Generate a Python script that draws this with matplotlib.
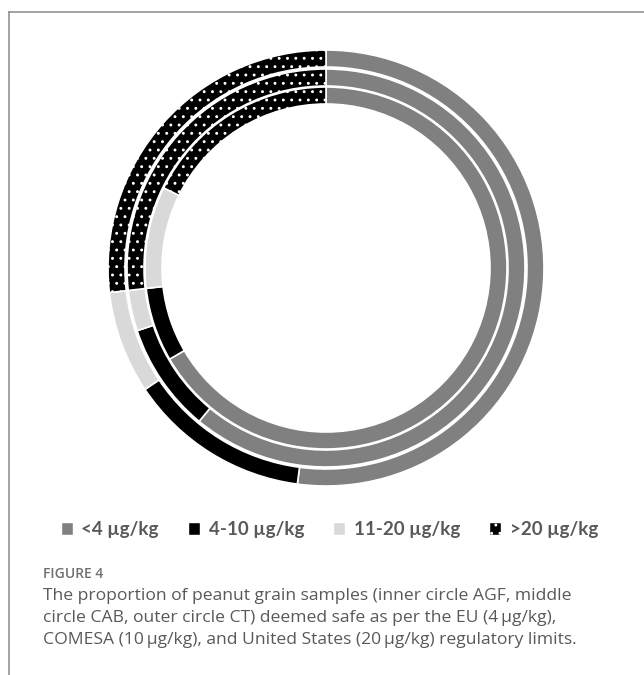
import matplotlib.pyplot as plt
from matplotlib.lines import Line2D

# proportions (%) of samples per aflatoxin class
categories = ["<4 µg/kg", "4-10 µg/kg", "11-20 µg/kg", ">20 µg/kg"]
agf = [66.6, 6.6, 9.1, 17.7]   # inner circle
cab = [61.0, 8.9, 3.3, 26.8]   # middle circle
ct = [52.1, 13.5, 7.6, 26.8]   # outer circle

colors = ["#808080", "#000000", "#d9d9d9", "#000000"]
hatches = [None, None, None, ".."]

caption_head = "FIGURE 4"
caption_lines = [
    "The proportion of peanut grain samples (inner circle AGF, middle",
    "circle CAB, outer circle CT) deemed safe as per the EU (4\u2009µg/kg),",
    "COMESA (10\u2009µg/kg), and United States (20\u2009µg/kg) regulatory limits.",
]

plt.rcParams["hatch.linewidth"] = 0.9

W, H = 644, 675
fig = plt.figure(figsize=(W / 100, H / 100), dpi=100)

cx, cy, R = 326, 268, 218
ax = fig.add_axes([(cx - R) / W, (H - cy - R) / H, 2 * R / W, 2 * R / H])

ring_w = 17 / R
for vals, rad in [(ct, 1.0), (cab, 199 / R), (agf, 181 / R)]:
    wedges, _ = ax.pie(vals, radius=rad, startangle=90, counterclock=False,
                       colors=colors,
                       wedgeprops=dict(width=ring_w, edgecolor="white", linewidth=1.2))
    for w, h in zip(wedges, hatches):
        if h:
            w.set_hatch(h)

ax.set_xlim(-1, 1)
ax.set_ylim(-1, 1)
ax.set_aspect("equal")
ax.axis("off")

handles = []
for c, h, lab in zip(colors, hatches, categories):
    handles.append(plt.Rectangle((0, 0), 1, 1, facecolor=c, edgecolor="white",
                                 linewidth=0.3, hatch=h, label=lab))
leg = fig.legend(handles=handles, loc="center", ncol=4, frameon=False,
                 bbox_to_anchor=(330 / W, 1 - 530 / H),
                 handlelength=0.6, handleheight=0.6, handletextpad=0.45,
                 columnspacing=1.6,
                 prop=dict(family=["Lato", "DejaVu Sans"], size=13.5, weight="bold"))
for t in leg.get_texts():
    t.set_color("#595959")

# frame lines of the figure panel
fig.add_artist(Line2D([9 / W, 9 / W], [0, 1 - 12 / H], color="#8c8c8c", lw=1.1,
                      transform=fig.transFigure))
fig.add_artist(Line2D([9 / W, 1], [1 - 12 / H, 1 - 12 / H], color="#8c8c8c", lw=1.1,
                      transform=fig.transFigure))

fig.text(43 / W, 1 - 578 / H, caption_head, color="#707070", fontsize=10,
         family=["Open Sans", "DejaVu Sans"], weight="semibold", va="baseline")
for i, line in enumerate(caption_lines):
    fig.text(43 / W, 1 - (600 + 22 * i) / H, line, color="#595959", fontsize=12.6,
             family=["Open Sans", "DejaVu Sans"], va="baseline")

fig.savefig("out.png", dpi=100)
